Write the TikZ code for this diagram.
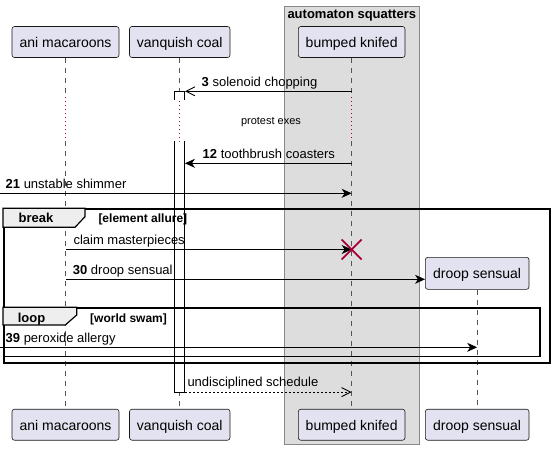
\documentclass[tikz,border=0pt]{standalone}
\usepackage{fontspec}
\setmainfont{Liberation Sans}
\usetikzlibrary{arrows.meta}
\definecolor{partfill}{HTML}{E2E2F0}
\definecolor{partline}{HTML}{181818}
\definecolor{boxfill}{HTML}{DDDDDD}
\definecolor{boxline}{HTML}{888888}
\definecolor{tabfill}{HTML}{EEEEEE}
\definecolor{delaycol}{HTML}{A80036}
\definecolor{lifecol}{HTML}{555555}
\begin{document}
\begin{tikzpicture}[x=1pt,y=-1pt,
  part/.style={draw=partline, line width=0.6pt, fill=partfill, rounded corners=2.5pt, inner sep=0pt, minimum height=31pt, text height=11pt, text depth=0pt, font=\fontsize{14}{16}\selectfont},
  lifeline/.style={draw=lifecol, line width=0.6pt, dash pattern=on 5pt off 5pt},
  delayline/.style={draw=delaycol, line width=0.8pt, dash pattern=on 1pt off 3pt},
  msg/.style={draw=black, line width=0.9pt, -{Stealth[length=10pt,width=9pt,inset=3pt]}},
  msgopen/.style={draw=black, line width=0.9pt, -{Straight Barb[length=9pt,width=9pt]}},
  lbl/.style={anchor=base west, inner sep=0pt, font=\fontsize{13}{15}\selectfont},
  framebox/.style={draw=black, line width=1.5pt, anchor=north west, inner sep=0pt},
  tabshape/.style={draw=black, line width=1.2pt, fill=tabfill},
  tabtitle/.style={anchor=base, inner sep=0pt, font=\bfseries\fontsize{13}{15}\selectfont},
  tabcond/.style={anchor=base west, inner sep=0pt, font=\bfseries\fontsize{12}{14}\selectfont},
  actbox/.style={fill=white, draw=none, inner sep=0pt, minimum width=10.2pt, anchor=north},
  actline/.style={draw=black, line width=0.9pt},
  destroy/.style={draw=delaycol, line width=1.8pt}
]
\useasboundingbox (0,0) rectangle (554,450);

% box group
\node[draw=boxline, fill=boxfill, line width=0.8pt, anchor=north west, minimum width=135pt, minimum height=438.3pt, inner sep=0pt] (grp) at (284.3,6) {};
\node[anchor=base, inner sep=0pt, font=\bfseries\fontsize{13}{15}\selectfont] (grpt) at (351.8,18.3) {automaton squatters};

% participants
\node[part, minimum width=107pt] (pA) at (65.5,42) {ani macaroons};
\node[part, minimum width=100.5pt] (pV) at (179.75,42) {vanquish coal};
\node[part, minimum width=106.7pt] (pB) at (351.65,42) {bumped knifed};
\node[part, minimum width=103.7pt, minimum height=32pt] (pD) at (477.15,273.3) {droop sensual};
\node[part, minimum width=107pt] (qA) at (65.5,424.7) {ani macaroons};
\node[part, minimum width=100.5pt] (qV) at (179.75,424.7) {vanquish coal};
\node[part, minimum width=106.7pt] (qB) at (351.65,424.7) {bumped knifed};
\node[part, minimum width=103.7pt] (qD) at (477.15,424.7) {droop sensual};

% lifelines with delay
\coordinate (dly1) at (0,97);
\coordinate (dly2) at (0,141);
\foreach \p/\q in {pA/qA,pV/qV,pB/qB}{
  \draw[lifeline] (\p.south) -- (\p.south |- dly1);
  \draw[delayline] (\p.south |- dly1) -- (\p.south |- dly2);
  \draw[lifeline] (\p.south |- dly2) -- (\q.north);
}
\draw[lifeline] (pD.south) -- (qD.north);

% activations
\node[actbox, minimum height=8.7pt] (act1) at (179.6,91.3) {};
\draw[actline] (act1.south west) -- (act1.north west) -- (act1.north east) -- (act1.south east);
\node[actbox, minimum height=250.4pt] (act2) at (179.6,141.3) {};
\draw[actline] (act2.north west) -- (act2.south west) -- (act2.south east) -- (act2.north east);

% message 3
\draw[msgopen] (pB.south |- act1.north) -- (act1.north east);
\node[lbl] (l3) at (201.5,86.5) {\textbf{3} solenoid chopping};

% delay text
\node[anchor=base, inner sep=0pt, font=\fontsize{11}{13}\selectfont] (dtext) at (271,124) {protest exes};

% message 12
\coordinate (m12) at (0,163.3);
\draw[msg] (pB.south |- m12) -- (act2.east |- m12);
\node[lbl] (l12) at (202.5,158.8) {\textbf{12} toothbrush coasters};

% message 21
\coordinate (m21) at (0,193.3);
\draw[msg] (m21) -- (pB.south |- m21);
\node[lbl] (l21) at (5.5,188.8) {\textbf{21} unstable shimmer};

% break frame
\node[framebox, minimum width=546.3pt, minimum height=153.7pt] (brk) at (3,208.3) {};
\draw[tabshape] (3,208.3) -- (85,208.3) -- (85,216.7) -- (75,227.3) -- (3,227.3) -- cycle;
\node[tabtitle] (brkt) at (36,222.3) {break};
\node[tabcond] (brkc) at (98.3,222.3) {[element allure]};

% claim masterpieces
\coordinate (mc) at (0,249.5);
\draw[msg] (pA.south |- mc) -- (pB.south |- mc);
\node[lbl] (lc) at (73.3,244.8) {claim masterpieces};
\coordinate (dx) at (351.65,249.5);
\draw[destroy] (dx) ++(-10,-10) -- ++(20,20);
\draw[destroy] (dx) ++(-10,10) -- ++(20,-20);

% message 30
\coordinate (m30) at (0,279.3);
\draw[msg] (pA.south |- m30) -- (pD.west |- m30);
\node[lbl] (l30) at (72.7,274.8) {\textbf{30} droop sensual};

% loop frame
\node[framebox, minimum width=536.3pt, minimum height=48.4pt] (lp) at (3,307.3) {};
\draw[tabshape] (3,307.3) -- (76.7,307.3) -- (76.7,315) -- (65.3,325) -- (3,325) -- cycle;
\node[tabtitle] (lpt) at (31.5,322) {loop};
\node[tabcond] (lpc) at (90,322) {[world swam]};

% message 39
\coordinate (m39) at (0,347.3);
\draw[msg] (m39) -- (pD.south |- m39);
\node[lbl] (l39) at (5.5,342.8) {\textbf{39} peroxide allergy};

% return message
\draw[msgopen, dash pattern=on 2pt off 2pt] (act2.south east) -- (pB.south |- act2.south east);
\node[lbl] (lu) at (187.3,386.7) {undisciplined schedule};
\end{tikzpicture}
\end{document}
